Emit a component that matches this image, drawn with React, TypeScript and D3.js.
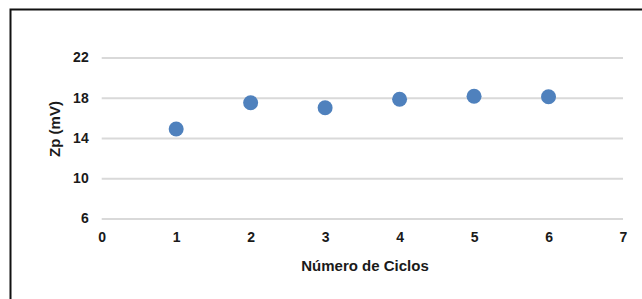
import React, { useEffect, useRef } from "react";
import * as d3 from "d3";

const cycles = [1, 2, 3, 4, 5, 6];
const zpValues = [14.9, 17.5, 17.0, 17.85, 18.15, 18.1];
const xTicks = [0, 1, 2, 3, 4, 5, 6, 7];
const yTicks = [6, 10, 14, 18, 22];

const App = () => {
  const container = useRef<HTMLDivElement>(null);

  useEffect(() => {
    const width = 642;
    const height = 299;
    const marginLeft = 101.7;
    const marginRight = 19;
    const marginTop = 57.5;
    const marginBottom = 80.5;

    const data = cycles.map((c, i) => ({ x: c, y: zpValues[i] }));

    const x = d3
      .scaleLinear()
      .domain([0, 7])
      .range([marginLeft, width - marginRight]);

    const y = d3
      .scaleLinear()
      .domain([6, 22])
      .range([height - marginBottom, marginTop]);

    const svg = d3
      .select(container.current)
      .append("svg")
      .attr("width", width)
      .attr("height", height)
      .attr("viewBox", [0, 0, width, height])
      .style("display", "block")
      .style("font-family", "'Liberation Sans', Arial, sans-serif");

    svg
      .append("rect")
      .attr("width", width)
      .attr("height", height)
      .attr("fill", "#fff");

    // outer frame (only left and top visible)
    svg
      .append("path")
      .attr("d", `M10.5,${height} V9.5 H${width}`)
      .attr("fill", "none")
      .attr("stroke", "#111")
      .attr("stroke-width", 2);

    // gridlines + y labels
    svg
      .append("g")
      .attr("transform", `translate(${marginLeft},0)`)
      .call(
        d3
          .axisLeft(y)
          .tickValues(yTicks)
          .tickFormat(d3.format("d"))
          .tickSize(-(width - marginRight - marginLeft))
          .tickPadding(13)
      )
      .call((g) => g.select(".domain").remove())
      .call((g) =>
        g.selectAll(".tick line").attr("stroke", "#d9d9d9").attr("stroke-width", 2)
      )
      .call((g) =>
        g
          .selectAll(".tick text")
          .attr("fill", "#1a1a1a")
          .style("font-size", "14px")
          .style("font-weight", "bold")
      );

    // x labels
    svg
      .append("g")
      .attr("transform", `translate(0,${height - marginBottom})`)
      .call(
        d3
          .axisBottom(x)
          .tickValues(xTicks)
          .tickFormat(d3.format("d"))
          .tickSize(0)
          .tickPadding(14)
      )
      .call((g) => g.select(".domain").remove())
      .call((g) =>
        g
          .selectAll(".tick text")
          .attr("fill", "#1a1a1a")
          .style("font-size", "14px")
          .style("font-weight", "bold")
      );

    svg
      .append("text")
      .attr("x", 365)
      .attr("y", 271)
      .attr("text-anchor", "middle")
      .attr("fill", "#1a1a1a")
      .style("font-size", "15px")
      .style("font-weight", "bold")
      .text("Número de Ciclos");

    svg
      .append("text")
      .attr("transform", `translate(60,129) rotate(-90)`)
      .attr("text-anchor", "middle")
      .attr("fill", "#1a1a1a")
      .style("font-size", "15px")
      .style("font-weight", "bold")
      .text("Zp (mV)");

    svg
      .append("g")
      .attr("fill", "#4f81bd")
      .selectAll("circle")
      .data(data)
      .join("circle")
      .attr("cx", (d) => x(d.x))
      .attr("cy", (d) => y(d.y))
      .attr("r", 7.5);

    return () => {
      svg.remove();
    };
  }, []);

  return (
    <>
      <style>{"body{margin:0;}"}</style>
      <div ref={container}></div>
    </>
  );
};

export default App;
